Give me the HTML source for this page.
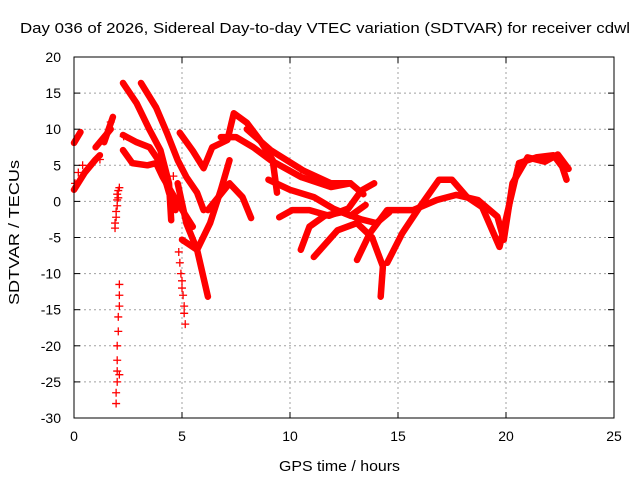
<!DOCTYPE html>
<html><head><meta charset="utf-8"><style>
html,body{margin:0;padding:0;background:#fff;}
svg text{font-family:"Liberation Sans",sans-serif;font-size:14px;fill:#000;}
</style></head><body>
<svg id="chart" width="640" height="480" viewBox="0 0 640 480" xmlns="http://www.w3.org/2000/svg">
<rect width="640" height="480" fill="#fff"/>
<g id="grid"></g>
<g id="series"></g>
<g id="axes"></g>
<text x="20" y="33" textLength="610" lengthAdjust="spacingAndGlyphs" style="font-size:15px">Day 036 of 2026, Sidereal Day-to-day VTEC variation (SDTVAR) for receiver cdwl</text>
<text x="279" y="471" textLength="121" lengthAdjust="spacingAndGlyphs" style="font-size:15px">GPS time / hours</text>
<text transform="translate(19,305) rotate(-90)" textLength="145" lengthAdjust="spacingAndGlyphs" style="font-size:15px">SDTVAR / TECUs</text>
</svg>
<script>
const xTicks=[0,5,10,15,20,25];
const yTicks=[20,15,10,5,0,-5,-10,-15,-20,-25,-30];
// line tracks: hours / values
const aH=[2.27,2.9,3.5,4.0,4.4,4.7];
const aV=[9.2,8.2,7.5,5.3,1.2,-1.2];
const bH=[2.27,2.7,3.4,3.8,4.1,4.8,5.5];
const bV=[7.1,5.3,5.0,5.3,3.4,-0.2,-3.5];
const cH=[2.27,2.9,3.5,4.0,4.4,4.5];
const cV=[16.4,13.6,9.9,7.1,2.5,-2.6];
const dH=[3.1,3.8,4.3,4.8,5.2,5.7,6.0];
const dV=[16.4,13.0,9.5,5.7,3.4,1.2,-1.2];
const eH=[4.9,5.5,6.0,6.4,7.1,7.4,8.0,8.6,9.2,9.4];
const eV=[9.5,7.0,4.6,7.5,8.5,12.2,10.9,8.5,5.7,1.2];
const fH=[4.8,5.2,5.7,6.2];
const fV=[2.5,-3.0,-6.7,-13.2];
const gH=[5.0,5.7,6.3,6.8,7.2];
const gV=[-5.3,-6.7,-3.0,1.6,5.7];
const hH=[6.2,7.2,7.8,8.2];
const hV=[-1.2,2.5,0.6,-2.3];
const iH=[6.8,7.5,8.3,9.1,10.5,11.9,12.8];
const iV=[8.9,8.9,7.5,5.7,3.4,2.0,2.5];
const jH=[8.0,9.1,10.6,11.9,12.8,13.4];
const jV=[10.0,7.1,4.3,2.5,2.5,1.0];
const kH=[9.0,10.0,11.1,12.0,12.8,13.5];
const kV=[3.0,1.6,0.6,-1.0,-2.0,-0.5];
const lH=[11.1,12.2,13.1,13.8,14.3,14.2];
const lV=[-7.7,-4.0,-3.0,-5.0,-9.0,-13.2];
const mH=[9.5,10.1,10.9,11.8,12.7,13.3,13.9];
const mV=[-2.2,-1.2,-1.2,-2.0,-1.0,1.5,2.5];
const nH=[14.5,15.2,16.0,16.9,17.5,18.2,18.9,19.7,20.2,20.6,21.4,22.2,22.6,22.8];
const nV=[-8.5,-4.4,-0.8,3.0,3.0,0.6,-0.8,-6.3,0.2,5.3,6.1,6.4,4.8,3.0];
const oH=[13.1,13.7,14.5,15.7,16.8,17.7,18.7,19.6,19.9,20.3,21.0,21.8,22.4,22.9];
const oV=[-8.1,-4.4,-1.2,-1.2,0.2,0.9,0.2,-2.1,-5.3,2.5,6.1,5.5,6.5,4.5];
const pH=[10.5,10.9,11.6,12.4,13.3,14.0,14.6];
const pV=[-6.7,-3.5,-2.0,-1.5,-2.5,-3.0,-1.5];
const qH=[0.0,0.5,1.0,1.2];
const qV=[1.6,4.0,5.8,6.4];
const rH=[0.0,0.3];
const rV=[8.1,9.6];
const sH=[1.4,1.8];
const sV=[8.2,11.7];
const tH=[1.0,1.7];
const tV=[7.5,10.0];
const lineH=[aH,bH,cH,dH,eH,fH,gH,hH,iH,jH,kH,lH,mH,nH,oH,pH,qH,rH,sH,tH];
const lineV=[aV,bV,cV,dV,eV,fV,gV,hV,iV,jV,kV,lV,mV,nV,oV,pV,qV,rV,sV,tV];
// plus-marker clusters
const p1H=[1.9,1.9,1.95,1.95,2.0,2.0,2.0,2.05,2.05,2.1];
const p1V=[-3.7,-3.0,-2.2,-1.4,-0.6,0.2,1.0,1.5,0.5,1.9];
const p2H=[1.95,1.95,2.0,2.0,2.0,2.0,2.05,2.05,2.1,2.1,2.1,2.1];
const p2V=[-28,-26.5,-25,-23.5,-22,-20,-18,-16,-14.5,-13,-11.5,-24];
const p3H=[4.85,4.9,4.95,5.0,5.0,5.05,5.1,5.1,5.15];
const p3V=[-7,-8.5,-10,-11,-12,-13,-14.5,-15.5,-17];
const p4H=[0.05,0.2,0.4,1.2,1.7,2.3,4.6,6.0,10.5];
const p4V=[2.5,4,5,5.8,11,9,3.5,-1,3.5];
const plusH=[p1H,p2H,p3H,p4H];
const plusV=[p1V,p2V,p3V,p4V];

const X0=74,X1=614,Y0=57,Y1=418;
const sx=h=>X0+(h-0)/(25-0)*(X1-X0);
const sy=v=>Y1-(v+30)/50*(Y1-Y0);
const NS="http://www.w3.org/2000/svg";
function mk(tag,attrs,parent){const e=document.createElementNS(NS,tag);for(const k in attrs)e.setAttribute(k,attrs[k]);parent.appendChild(e);return e;}
const grid=document.getElementById('grid'),axes=document.getElementById('axes'),ser=document.getElementById('series');
xTicks.forEach(t=>{
  const x=sx(t);
  if(t>0&&t<25){const g=mk('line',{x1:x,y1:Y0,x2:x,y2:Y1,stroke:'#a0a0a0','stroke-dasharray':'2,3','stroke-width':1},grid);
  
  }
  const tk=mk('line',{x1:x,y1:Y1,x2:x,y2:Y1-6,stroke:'#000'},axes);
  
  
  const tk2=mk('line',{x1:x,y1:Y0,x2:x,y2:Y0+6,stroke:'#000'},axes);
  
  
  const l=mk('text',{x:x,y:Y1+23,'text-anchor':'middle'},axes);l.textContent=t;
  
  
});
yTicks.forEach(t=>{
  const y=sy(t);
  if(t>-30&&t<20){const g=mk('line',{x1:X0,y1:y,x2:X1,y2:y,stroke:'#a0a0a0','stroke-dasharray':'2,3','stroke-width':1},grid);
  
  }
  const tk=mk('line',{x1:X0,y1:y,x2:X0+6,y2:y,stroke:'#000'},axes);
  
  
  const tk2=mk('line',{x1:X1,y1:y,x2:X1-6,y2:y,stroke:'#000'},axes);
  
  
  const l=mk('text',{x:X0-13,y:y+5,'text-anchor':'end'},axes);l.textContent=t;
  
  
});
const frame=mk('rect',{x:X0,y:Y0,width:X1-X0,height:Y1-Y0,fill:'none',stroke:'#000','stroke-width':1},axes);


lineH.forEach((hs,i)=>{
  const vs=lineV[i];
  const pts=hs.map((h,j)=>sx(h).toFixed(1)+','+sy(vs[j]).toFixed(1)).join(' ');
  const pl=mk('polyline',{points:pts,fill:'none',stroke:'#ff0000','stroke-width':6.5,'stroke-linejoin':'round','stroke-linecap':'round'},ser);
  
  
});
plusH.forEach((hs,i)=>{
  const vs=plusV[i];
  hs.forEach((h,j)=>{
    const x=sx(h),y=sy(vs[j]);
    const p=mk('path',{d:`M${x-4},${y}H${x+4}M${x},${y-4}V${y+4}`,stroke:'#ff0000','stroke-width':1.3},ser);
    
    
  });
});
</script>
</body></html>
